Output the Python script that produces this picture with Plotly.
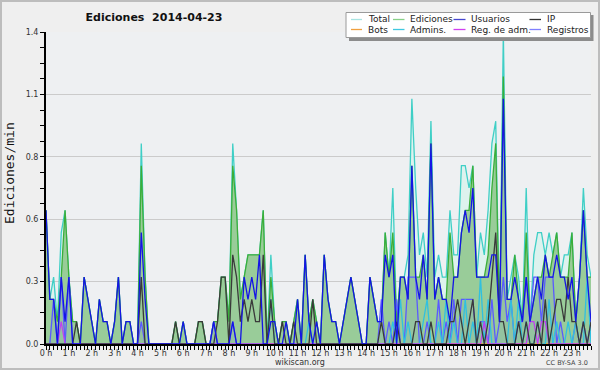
import plotly.graph_objects as go

# Edits per 10-minute bucket (144 buckets, one row = one hour)
total = [
    6, 2, 3, 1, 5, 6,
    3, 1, 1, 0, 3, 2,
    1, 0, 2, 1, 1, 0,
    1, 3, 0, 1, 1, 0,
    0, 9, 3, 0, 0, 0,
    0, 0, 0, 0, 1, 0,
    1, 0, 0, 0, 1, 1,
    0, 0, 1, 1, 3, 3,
    1, 9, 6, 2, 3, 4,
    4, 4, 4, 6, 0, 4,
    1, 0, 1, 1, 0, 1,
    2, 0, 4, 1, 2, 1,
    0, 4, 2, 1, 1, 0,
    1, 2, 3, 2, 1, 0,
    0, 3, 2, 1, 1, 5,
    3, 7, 1, 3, 3, 4,
    11, 7, 4, 5, 3, 10,
    3, 4, 3, 3, 6, 4,
    4, 8, 8, 7, 8, 3,
    5, 4, 6, 9, 10, 1,
    14, 2, 3, 4, 3, 1,
    7, 1, 4, 5, 5, 4,
    5, 4, 5, 3, 4, 4,
    5, 1, 3, 7, 4, 3,
]
ediciones = [
    6, 2, 2, 1, 3, 6,
    3, 1, 1, 0, 3, 2,
    1, 0, 2, 1, 1, 0,
    1, 3, 0, 1, 1, 0,
    0, 8, 3, 0, 0, 0,
    0, 0, 0, 0, 1, 0,
    1, 0, 0, 0, 1, 1,
    0, 0, 1, 1, 3, 3,
    1, 8, 6, 2, 3, 4,
    4, 4, 4, 6, 0, 3,
    1, 0, 1, 1, 0, 1,
    2, 0, 4, 1, 2, 1,
    0, 4, 2, 1, 1, 0,
    1, 2, 3, 2, 1, 0,
    0, 3, 2, 1, 1, 5,
    3, 5, 1, 3, 3, 2,
    8, 3, 3, 4, 2, 9,
    2, 3, 2, 2, 5, 3,
    3, 5, 6, 6, 8, 3,
    3, 3, 4, 7, 9, 1,
    12, 2, 2, 4, 2, 1,
    5, 1, 2, 3, 3, 4,
    3, 4, 5, 3, 3, 3,
    5, 1, 3, 6, 3, 3,
]
usuarios = [
    6, 2, 2, 0, 3, 1,
    3, 0, 0, 0, 3, 2,
    1, 0, 2, 1, 1, 0,
    1, 3, 0, 1, 1, 0,
    0, 5, 2, 0, 0, 0,
    0, 0, 0, 0, 0, 0,
    1, 0, 0, 0, 0, 0,
    0, 0, 1, 0, 0, 0,
    0, 1, 0, 0, 3, 2,
    3, 2, 4, 0, 0, 1,
    1, 0, 0, 1, 0, 0,
    2, 0, 4, 1, 0, 1,
    0, 4, 2, 1, 1, 0,
    1, 2, 3, 2, 1, 0,
    0, 3, 2, 1, 1, 4,
    3, 4, 0, 3, 3, 2,
    8, 3, 2, 4, 2, 9,
    2, 3, 2, 2, 1, 3,
    3, 5, 6, 5, 7, 3,
    3, 3, 3, 4, 4, 1,
    11, 2, 2, 3, 2, 1,
    3, 1, 2, 3, 2, 4,
    3, 3, 4, 3, 3, 2,
    3, 1, 3, 6, 3, 1,
]
ip = [
    0, 0, 0, 0, 0, 0,
    0, 0, 1, 0, 0, 0,
    0, 0, 0, 0, 0, 0,
    0, 0, 0, 0, 0, 0,
    0, 3, 0, 0, 0, 0,
    0, 0, 0, 0, 1, 0,
    0, 0, 0, 0, 1, 1,
    0, 0, 0, 1, 3, 3,
    0, 4, 3, 1, 2, 1,
    2, 1, 1, 4, 0, 2,
    0, 0, 1, 0, 0, 1,
    0, 0, 0, 0, 2, 0,
    0, 0, 0, 0, 0, 0,
    0, 0, 0, 0, 0, 0,
    0, 0, 0, 0, 1, 0,
    0, 0, 1, 0, 0, 0,
    0, 1, 1, 0, 0, 1,
    0, 0, 0, 0, 1, 1,
    2, 1, 0, 1, 2, 0,
    1, 0, 1, 3, 5, 1,
    1, 0, 0, 0, 1, 0,
    1, 0, 0, 1, 0, 2,
    0, 1, 2, 2, 1, 3,
    1, 1, 0, 1, 0, 1,
]
bots = [
    0, 0, 0, 0, 0, 0,  0, 0, 0, 0, 0, 0,  0, 0, 0, 0, 0, 0,  0, 0, 0, 0, 0, 0,
    0, 0, 0, 0, 0, 0,  0, 0, 0, 0, 0, 0,  0, 0, 0, 0, 0, 0,  0, 0, 0, 0, 0, 0,
    0, 0, 0, 0, 0, 0,  0, 0, 0, 0, 0, 0,  0, 0, 0, 0, 0, 0,  0, 0, 0, 0, 0, 0,
    0, 0, 0, 0, 0, 0,  0, 0, 0, 0, 0, 0,  0, 0, 0, 0, 0, 0,  0, 0, 0, 0, 0, 0,
    0, 0, 0, 0, 0, 0,  0, 0, 0, 0, 0, 0,  0, 0, 0, 0, 0, 0,  0, 0, 0, 0, 0, 0,
    0, 0, 0, 0, 0, 0,  0, 0, 0, 0, 0, 0,  0, 0, 0, 0, 0, 0,  0, 0, 0, 0, 0, 0,
]
admins = [
    0, 0, 0, 0, 0, 0,  0, 0, 0, 0, 0, 0,  0, 0, 0, 0, 0, 0,  0, 0, 0, 0, 0, 0,
    0, 0, 0, 0, 0, 0,  0, 0, 0, 0, 0, 0,  0, 0, 0, 0, 0, 0,  0, 0, 0, 0, 0, 0,
    0, 0, 0, 0, 0, 0,  0, 0, 0, 0, 0, 2,  0, 0, 0, 0, 0, 0,  0, 0, 0, 1, 0, 0,
    0, 0, 0, 0, 0, 0,  0, 0, 0, 0, 0, 0,  0, 0, 0, 0, 0, 0,  0, 1, 0, 2, 0, 1,
    0, 0, 0, 1, 2, 0,  0, 1, 0, 2, 0, 1,  0, 0, 2, 0, 1, 0,  3, 0, 2, 0, 0, 0,
    0, 0, 2, 0, 2, 0,  1, 0, 0, 1, 0, 0,  2, 0, 1, 0, 0, 1,  0, 1, 0, 0, 3, 0,
]
reg_adm = [
    0, 0, 0, 0, 1, 0,  0, 0, 0, 0, 0, 0,  0, 0, 0, 0, 0, 0,  0, 0, 0, 0, 0, 0,
    0, 0, 0, 0, 0, 0,  0, 0, 0, 0, 0, 0,  0, 0, 0, 0, 0, 0,  0, 0, 0, 0, 0, 0,
    0, 0, 0, 0, 0, 0,  0, 0, 0, 0, 0, 0,  0, 0, 0, 0, 0, 0,  0, 0, 0, 0, 0, 0,
    0, 0, 0, 0, 0, 0,  0, 0, 0, 0, 0, 0,  0, 0, 0, 0, 0, 0,  0, 0, 0, 0, 0, 0,
    0, 0, 0, 0, 0, 0,  0, 0, 0, 0, 0, 0,  0, 0, 0, 0, 0, 0,  0, 1, 0, 0, 0, 0,
    0, 0, 0, 0, 0, 0,  0, 1, 1, 0, 1, 1,  0, 0, 0, 0, 0, 0,  0, 0, 0, 0, 0, 0,
]
registros = [
    0, 0, 2, 0, 3, 0,  3, 0, 0, 0, 0, 0,  0, 0, 0, 0, 0, 0,  0, 0, 0, 0, 0, 0,
    0, 1, 0, 0, 0, 0,  0, 0, 0, 0, 0, 0,  0, 0, 0, 0, 0, 0,  0, 0, 1, 0, 0, 0,
    0, 1, 0, 0, 0, 0,  0, 0, 0, 0, 0, 0,  0, 0, 0, 0, 0, 0,  0, 0, 0, 0, 0, 0,
    0, 0, 0, 0, 0, 0,  0, 0, 0, 0, 0, 0,  0, 0, 0, 0, 2, 0,  1, 0, 2, 0, 0, 3,
    3, 3, 0, 0, 1, 0,  0, 2, 0, 1, 0, 2,  0, 2, 2, 2, 2, 0,  1, 1, 0, 2, 0, 1,
    3, 1, 2, 0, 1, 1,  3, 1, 3, 3, 1, 3,  3, 3, 0, 1, 0, 0,  0, 1, 0, 1, 0, 1,
]

hour_ticks = list(range(24))
hour_labels = [f"{h} h" for h in hour_ticks]
y_ticks = [0, 0.28, 0.56, 0.84, 1.12, 1.4]
y_labels = ["0.0", "0.3", "0.6", "0.8", "1.1", "1.4"]
bucket_minutes = 10

x_hours = [i * bucket_minutes / 60 for i in range(len(total))]


def per_min(counts):
    return [c / bucket_minutes for c in counts]


FONT = "DejaVu Sans"
fig = go.Figure()

series = [
    # name, data, line colour, fill
    ("Total", total, "#3fcfc6", "#ddf2ee"),
    ("Ediciones", ediciones, "#3aae3a", "#99cc99"),
    ("Registros", registros, "#5a5aff", "rgba(90,90,255,0.07)"),
    ("Bots", bots, "#f0a030", None),
    ("Admins.", admins, "#30c0e0", None),
    ("Reg. de adm.", reg_adm, "#c040f0", None),
    ("IP", ip, "#3a3a3a", None),
    ("Usuarios", usuarios, "#1414e6", None),
]
for name, data, col, fillcol in series:
    fig.add_trace(go.Scatter(
        x=x_hours, y=per_min(data), name=name, mode="lines",
        line=dict(color=col, width=1.3),
        fill="tozeroy" if fillcol else None,
        fillcolor=fillcol,
        showlegend=False,
    ))

L, R, T, B = 46, 9, 32, 26
W, H = 600, 370
pw, ph = W - L - R, H - T - B


def px(x):
    return (x - L) / pw


def py(y):
    return (H - B - y) / ph


shapes = []
annotations = []

# outer frame
shapes.append(dict(type="rect", xref="paper", yref="paper",
                   x0=px(1), x1=px(599), y0=py(369), y1=py(1),
                   line=dict(color="#bdbdbd", width=2), fillcolor="rgba(0,0,0,0)"))

# legend box with shadow
shapes.append(dict(type="rect", xref="paper", yref="paper",
                   x0=px(349), x1=px(593.5), y0=py(41), y1=py(15),
                   line=dict(width=0), fillcolor="#8c8c8c"))
shapes.append(dict(type="rect", xref="paper", yref="paper",
                   x0=px(346), x1=px(590.5), y0=py(37.5), y1=py(12.5),
                   line=dict(color="#9a9a9a", width=1), fillcolor="#ffffff"))

legend_rows = [
    [("Total", "#a8e4e2"), ("Ediciones", "#88d088"), ("Usuarios", "#4646d0"), ("IP", "#333333")],
    [("Bots", "#f0a040"), ("Admins.", "#40c8e0"), ("Reg. de adm.", "#d040f0"), ("Registros", "#8080ff")],
]
col_line = [(351, 362), (393, 404.5), (453.5, 465.5), (529.5, 541)]
col_text = [366, 408, 469, 545]
row_y = [19.5, 29.5]
for r, row in enumerate(legend_rows):
    for c, (label, col) in enumerate(row):
        shapes.append(dict(type="line", xref="paper", yref="paper",
                           x0=px(col_line[c][0]), x1=px(col_line[c][1]),
                           y0=py(row_y[r]), y1=py(row_y[r]),
                           line=dict(color=col, width=1.3)))
        annotations.append(dict(text=label, xref="paper", yref="paper",
                                x=px(col_text[c]), y=py(row_y[r]),
                                xanchor="left", yanchor="middle", showarrow=False,
                                font=dict(family=FONT, size=9, color="#222")))

# y axis title
annotations.append(dict(text="Ediciones/min", xref="paper", yref="paper",
                        x=px(10), y=py(173), textangle=-90, showarrow=False,
                        xanchor="center", yanchor="middle",
                        font=dict(family="DejaVu Sans Mono", size=13, color="#111")))
# footer
annotations.append(dict(text="wikiscan.org", xref="paper", yref="paper",
                        x=px(300), y=py(362), showarrow=False,
                        xanchor="center", yanchor="middle",
                        font=dict(family=FONT, size=8, color="#333")))
annotations.append(dict(text="CC BY-SA 3.0", xref="paper", yref="paper",
                        x=px(590), y=py(363), showarrow=False,
                        xanchor="right", yanchor="middle",
                        font=dict(family=FONT, size=6.5, color="#444")))

fig.update_layout(
    width=W, height=H, autosize=False,
    margin=dict(l=L, r=R, t=T, b=B, pad=0),
    paper_bgcolor="#efefef", plot_bgcolor="#eef0f2",
    title=dict(text="<b>Ediciones\u00a0\u00a02014-04-23</b>", x=154 / W, xanchor="center",
               y=1 - 17 / H, yanchor="middle",
               font=dict(family=FONT, size=11, color="#111")),
    showlegend=False,
    shapes=shapes, annotations=annotations,
    xaxis=dict(range=[0, x_hours[-1]], tickvals=hour_ticks, ticktext=hour_labels,
               showgrid=False, zeroline=False, showline=True, linecolor="#000",
               linewidth=2, ticks="outside", ticklen=4, tickcolor="#000", tickwidth=1,
               ticklabelstandoff=-4,
               tickfont=dict(family=FONT, size=8, color="#333"),
               minor=dict(dtick=1 / 6, tick0=0, ticks="outside", ticklen=4,
                          tickcolor="#000", tickwidth=1, showgrid=False)),
    yaxis=dict(range=[0, 1.4], tickvals=y_ticks, ticktext=y_labels,
               showgrid=True, gridcolor="#cbcbcb", gridwidth=1, zeroline=False,
               showline=True, linecolor="#000", linewidth=2,
               ticks="outside", ticklen=4, tickcolor="#000", tickwidth=1,
               tickfont=dict(family=FONT, size=8, color="#333"),
               minor=dict(tick0=0, dtick=0.07, ticks="outside", ticklen=4,
                          tickcolor="#000", tickwidth=1, showgrid=False)),
)

fig.write_html("out.html", config={"displayModeBar": False},
               post_script="document.body.style.margin='0';document.body.style.overflow='hidden';")
